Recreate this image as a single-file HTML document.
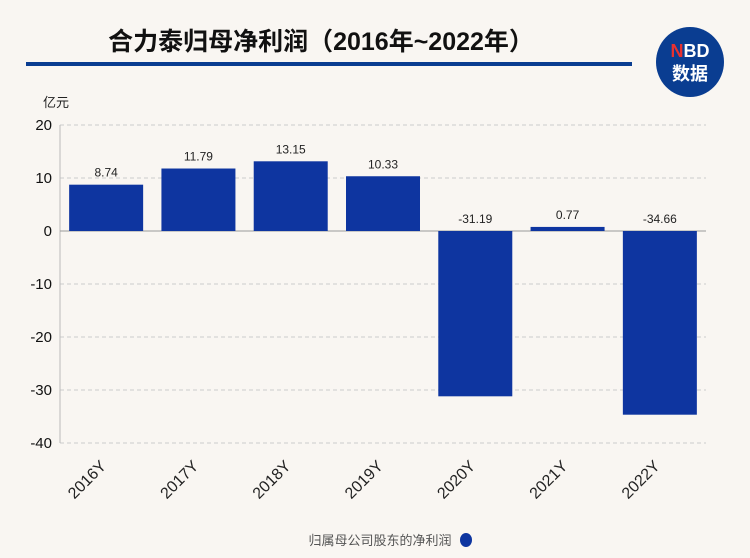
<!DOCTYPE html>
<html><head><meta charset="utf-8"><style>
body{margin:0;background:#f9f6f2;}
svg{display:block;font-family:"Liberation Sans","Noto Sans CJK SC",sans-serif;}
</style></head><body>
<svg width="750" height="558" viewBox="0 0 750 558">
<rect width="750" height="558" fill="#f9f6f2"/>
<text x="321" y="50" text-anchor="middle" font-size="25" font-weight="bold" fill="#111">合力泰归母净利润（2016年~2022年）</text>
<rect x="26" y="62" width="606" height="4" fill="#0a3d91"/>
<g>
<ellipse cx="690" cy="62" rx="34" ry="35" fill="#0a3d91"/>
<text x="690" y="57" text-anchor="middle" font-size="18" font-weight="bold" fill="#fff"><tspan fill="#e8312f">N</tspan>BD</text>
<text x="690" y="80" text-anchor="middle" font-size="18" font-weight="bold" fill="#fff">数据</text>
</g>
<text x="43" y="107" font-size="13" fill="#222">亿元</text>
<g id="grid"></g><g id="bars"></g><g id="labels"></g>
<text x="380" y="545" text-anchor="middle" font-size="13" fill="#555">归属母公司股东的净利润</text>
<ellipse cx="466" cy="540" rx="6" ry="7" fill="#0e35a0"/>
</svg>
<script>
const categories=["2016Y","2017Y","2018Y","2019Y","2020Y","2021Y","2022Y"];
const values=[8.74,11.79,13.15,10.33,-31.19,0.77,-34.66];
const valueLabels=["8.74","11.79","13.15","10.33","-31.19","0.77","-34.66"];
const yTicks=[20,10,0,-10,-20,-30,-40];
const NS="http://www.w3.org/2000/svg";
const x0=60,x1=706,y0=231,ppu=5.3;
const slot=(x1-x0)/categories.length,bw=74;
const y=v=>y0-v*ppu;
const xc=i=>x0+slot*(i+0.5);
function mk(t,a,p){const e=document.createElementNS(NS,t);for(const k in a)e.setAttribute(k,a[k]);p.appendChild(e);return e;}
const g=document.getElementById('grid'),b=document.getElementById('bars'),l=document.getElementById('labels');
yTicks.forEach(t=>{
 if(t!==0){const ln=mk('line',{x1:x0,x2:x1,y1:y(t),y2:y(t),stroke:'#ccc','stroke-dasharray':'4,3'},g);
 
 }
 const tx=mk('text',{x:x0-8,y:y(t)+5,'text-anchor':'end','font-size':15,fill:'#111'},g);tx.textContent=t;
 
 
});
const ax=mk('line',{x1:x0,x2:x0,y1:y(20),y2:y(-40),stroke:'#bbb'},g);


values.forEach((v,i)=>{
 const top=Math.min(y(v),y0),h=Math.abs(v)*ppu;
 const r=mk('rect',{x:xc(i)-bw/2,y:top,width:bw,height:h,fill:'#0e35a0'},b);
 
 
 const ly=v>=0?y(v)-8:y0-8;
 const t=mk('text',{x:xc(i),y:ly,'text-anchor':'middle','font-size':12,fill:'#222'},l);t.textContent=valueLabels[i];
 
 
 const ax_=xc(i)+1,ay=467;
 const c=mk('text',{x:ax_,y:ay,'text-anchor':'end','font-size':16,fill:'#222',transform:`rotate(-45 ${ax_} ${ay})`},l);c.textContent=categories[i];
 
 
});
const zl=mk('line',{x1:x0,x2:x1,y1:y0,y2:y0,stroke:'#999'},g);


</script>
</body></html>
